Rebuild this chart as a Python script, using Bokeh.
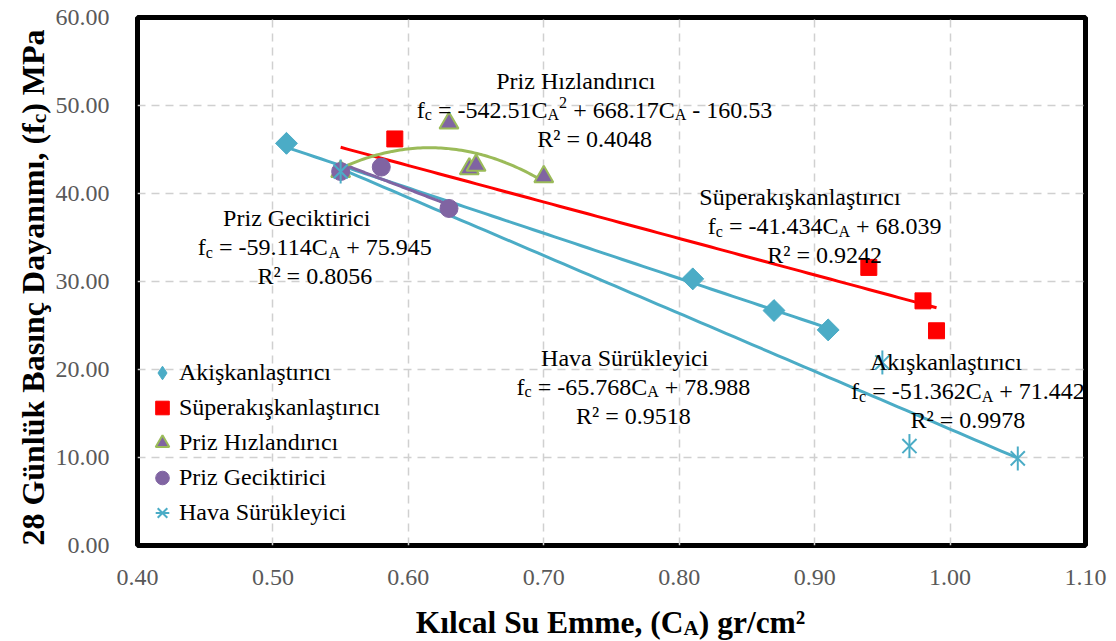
import numpy as np
from bokeh.plotting import figure
from bokeh.layouts import row, column
from bokeh.models import Range1d, FixedTicker, NumeralTickFormatter, Label, Legend, LegendItem
from bokeh.embed import file_html
from bokeh.resources import INLINE

# ---------------- data ----------------
akis_x = [0.51, 0.81, 0.87, 0.91]
akis_y = [45.7, 30.3, 26.7, 24.5]
super_x = [0.59, 0.94, 0.98, 0.99]
super_y = [46.2, 31.6, 27.8, 24.4]
hizl_x = [0.55, 0.63, 0.645, 0.65, 0.70]
hizl_y = [42.5, 48.0, 42.8, 43.2, 41.9]
gecik_x = [0.55, 0.58, 0.63]
gecik_y = [42.5, 43.0, 38.3]
hava_x = [0.55, 0.95, 0.97, 1.05]
hava_y = [42.5, 20.8, 11.3, 9.9]

# trendline coefficients (highest power first) and x-ranges
akis_coef = [-51.362, 71.442]
super_coef = [-41.434, 68.039]
hizl_coef = [-542.51, 668.17, -160.53]
gecik_coef = [-59.114, 75.945]
hava_coef = [-65.768, 78.988]
akis_trend_range = [0.51, 0.91]
super_trend_range = [0.55, 0.99]
hizl_trend_range = [0.55, 0.70]
gecik_trend_range = [0.55, 0.63]
hava_trend_range = [0.55, 1.05]

series_names = ["Akişkanlaştırıcı", "Süperakışkanlaştırıcı", "Priz Hızlandırıcı",
                "Priz Geciktirici", "Hava Sürükleyici"]
r2_values = ["0.9978", "0.9242", "0.4048", "0.8056", "0.9518"]

x_ticks = [0.40, 0.50, 0.60, 0.70, 0.80, 0.90, 1.00, 1.10]
y_ticks = [0, 10, 20, 30, 40, 50, 60]

# ---------------- styles ----------------
CYAN = "#4BACC6"
RED = "#FF0000"
PURPLE = "#8064A2"
GREEN = "#9BBB59"
FONT = "'Liberation Serif', 'Times New Roman', Times, serif"

TOTAL_W, TOTAL_H = 1116, 641
LEFT_W = 52
BOTTOM_H = 45

p = figure(width=TOTAL_W - LEFT_W, height=TOTAL_H - BOTTOM_H, title=None,
           x_range=Range1d(0.4, 1.1), y_range=Range1d(0, 60),
           output_backend="svg", toolbar_location=None,
           min_border_left=133 - LEFT_W, min_border_right=31, min_border_top=17,
           min_border_bottom=51)
p.background_fill_color = "white"
p.border_fill_color = "white"
p.outline_line_color = "black"
p.outline_line_width = 5

for ax, ticks in ((p.xaxis, x_ticks), (p.yaxis, y_ticks)):
    ax.ticker = FixedTicker(ticks=ticks)
    ax.formatter = NumeralTickFormatter(format="0.00")
    ax.axis_line_color = None
    ax.major_tick_line_color = None
    ax.minor_tick_line_color = None
    ax.major_label_text_font = FONT
    ax.major_label_text_font_size = "24px"
    ax.major_label_text_color = "#595959"
p.xaxis.major_label_standoff = 18
p.yaxis.major_label_standoff = 22

for g in (p.xgrid, p.ygrid):
    g.grid_line_color = "#D0D0D0"
    g.grid_line_width = 1.5
    g.grid_line_dash = "8 6"

# ---------------- trendlines ----------------
def trend(coef, rng, color):
    xs = np.linspace(rng[0], rng[1], 80)
    p.line(xs, np.polyval(coef, xs), line_color=color, line_width=3)

trend(akis_coef, akis_trend_range, CYAN)
trend(hava_coef, hava_trend_range, CYAN)
trend(super_coef, super_trend_range, RED)
trend(gecik_coef, gecik_trend_range, PURPLE)
trend(hizl_coef, hizl_trend_range, GREEN)

# ---------------- markers ----------------
r_akis_legend = p.scatter(akis_x, akis_y, marker="diamond", size=21, color=CYAN)
p.scatter(akis_x, akis_y, marker="square", angle=np.pi / 4, size=15.5, color=CYAN)
r_super = p.scatter(super_x, super_y, marker="square", size=16, color=RED)
r_hizl = p.scatter(hizl_x, hizl_y, marker="triangle", size=19, fill_color=PURPLE,
                   line_color=GREEN, line_width=2)
r_gecik = p.scatter(gecik_x, gecik_y, marker="circle", size=18, color=PURPLE)
r_hava_x = p.scatter(hava_x, hava_y, marker="x", size=20, line_color=CYAN, line_width=2)
r_hava_d = p.scatter(hava_x, hava_y, marker="dash", angle=np.pi / 2, size=24,
                     line_color=CYAN, line_width=2)

legend = Legend(items=[
    LegendItem(label=series_names[0], renderers=[r_akis_legend]),
    LegendItem(label=series_names[1], renderers=[r_super]),
    LegendItem(label=series_names[2], renderers=[r_hizl]),
    LegendItem(label=series_names[3], renderers=[r_gecik]),
    LegendItem(label=series_names[4], renderers=[r_hava_x, r_hava_d]),
], location=(8, 15), padding=0, margin=0, spacing=0, glyph_width=34, glyph_height=35,
    label_height=35, label_standoff=0, label_text_font=FONT, label_text_font_size="24px",
    label_text_color="black", border_line_color=None, background_fill_alpha=0)
p.add_layout(legend)

# ---------------- rich text helper ----------------
REG = {' ': 250, '.': 250, ',': 250, '-': 333, '=': 564, '+': 564, 'C': 667, 'A': 722,
       'R': 667, 'f': 333, 'c': 444, '²': 300}
for d in "0123456789":
    REG[d] = 500
BOLD = {' ': 250, ',': 250, '(': 333, ')': 333, '/': 278, '²': 300, '2': 500, '8': 500,
        'A': 722, 'B': 667, 'C': 722, 'D': 722, 'E': 667, 'G': 778, 'K': 778, 'M': 944,
        'P': 611, 'S': 556, 'a': 500, 'c': 444, 'e': 444, 'f': 333, 'g': 500, 'k': 556,
        'l': 278, 'm': 833, 'n': 556, 'r': 444, 's': 389, 'u': 556, 'y': 500, 'ü': 556,
        'ı': 278, 'ç': 444}
SUB = 0.67


def width(s, size, table):
    return sum(table.get(ch, 500) for ch in s) / 1000.0 * size


def rich(fig, x, y, segs, size, table, bold=False, dy=0.0, angle=0.0, color="black",
         sub_drop=0.21):
    sizes = [size * SUB if k != "n" else size for _, k in segs]
    widths = [width(t, s, table) for (t, _), s in zip(segs, sizes)]
    pos = -sum(widths) / 2.0
    for (t, k), s, w in zip(segs, sizes, widths):
        lead = len(t) - len(t.lstrip(' '))
        start = pos + width(' ' * lead, s, table)
        shift = -sub_drop * size if k == "sub" else (0.30 * size if k == "sup" else 0.0)
        if angle == 0:
            xo, yo = start, dy + shift
        else:
            xo, yo = -shift, start
        fig.add_layout(Label(x=x, y=y, x_offset=xo, y_offset=yo, text=t.strip(' '),
                             text_font=FONT, text_font_size=f"{s:.1f}px",
                             text_font_style="bold" if bold else "normal",
                             text_align="left", text_baseline="alphabetic",
                             angle=angle, text_color=color))
        pos += w


def eq_linear(coef):
    a, b = coef
    return [("f", "n"), ("c", "sub"), (f" = {a:.3f}C", "n"), ("A", "sub"),
            (f" + {b:.3f}", "n")]


def block(x, y, title, eq_segs, r2, size=24, gap=29):
    rich(p, x, y, [(title, "n")], size, REG)
    rich(p, x, y, eq_segs, size, REG, dy=-gap)
    rich(p, x, y, [(f"R² = {r2}", "n")], size, REG, dy=-2 * gap)


hizl_eq = [("f", "n"), ("c", "sub"), (f" = {hizl_coef[0]:.2f}C", "n"), ("A", "sub"),
           ("2", "sup"), (f" + {hizl_coef[1]:.2f}C", "n"), ("A", "sub"),
           (f" - {abs(hizl_coef[2]):.2f}", "n")]

block(0.7375, 52.84, "Priz Hızlandırıcı", hizl_eq, r2_values[2])
block(0.5309, 37.16, "Priz Geciktirici", eq_linear(gecik_coef), r2_values[3])
block(0.9074, 39.55, "Süperakışkanlaştırıcı", eq_linear(super_coef), r2_values[1])
block(0.7662, 21.36, "Hava Sürükleyici", eq_linear(hava_coef), r2_values[4])
block(1.0132, 20.80, "Akışkanlaştırıcı", eq_linear(akis_coef), r2_values[0])


# ---------------- axis titles (own text panels) ----------------
def panel(w, h, x_range):
    f = figure(width=w, height=h, title=None, x_range=x_range, y_range=Range1d(0, h),
               output_backend="svg", toolbar_location=None,
               x_axis_location=None, y_axis_location=None,
               min_border_left=0, min_border_right=0, min_border_top=0, min_border_bottom=0)
    f.outline_line_color = None
    f.xgrid.visible = False
    f.ygrid.visible = False
    f.background_fill_color = "white"
    f.border_fill_color = "white"
    return f


left = panel(LEFT_W, TOTAL_H, Range1d(0, LEFT_W))
# the bottom panel's frame is aligned with the main frame, so it shares its x range
bottom = panel(TOTAL_W - LEFT_W, BOTTOM_H, p.x_range)

rich(bottom, 0.7493, 19, [("Kılcal Su Emme, (C", "n"), ("A", "sub"), (") gr/cm²", "n")],
     31.5, BOLD, bold=True, sub_drop=0.17)
rich(left, 32, 354, [("28 Günlük Basınç Dayanımı, (f", "n"), ("c", "sub"), (") MPa", "n")],
     32.0, BOLD, bold=True, angle=np.pi / 2)

layout = row(left, column(p, bottom, spacing=0), spacing=0)
open("out.html", "w").write(file_html(layout, INLINE))
